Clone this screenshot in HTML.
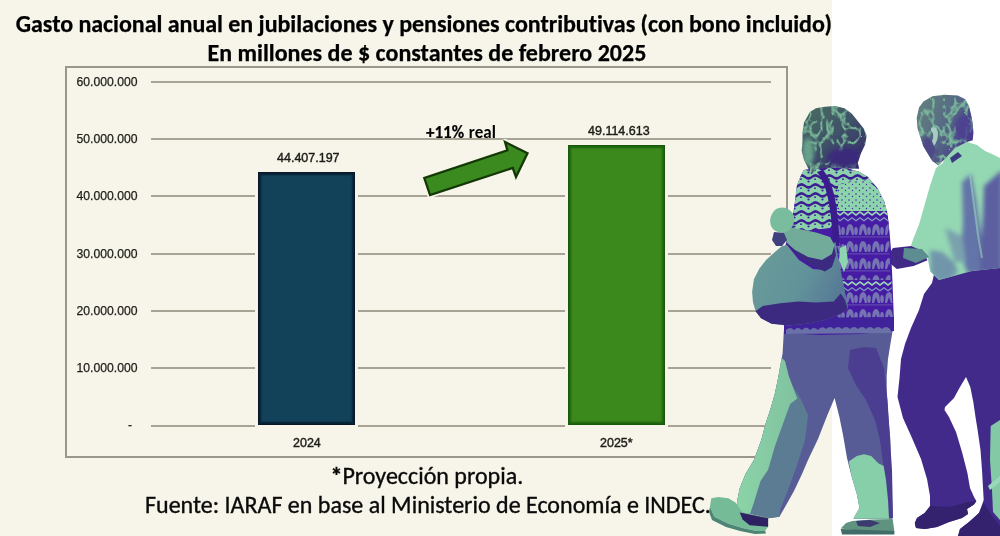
<!DOCTYPE html>
<html><head><meta charset="utf-8">
<style>
html,body{margin:0;padding:0}
body{width:1000px;height:536px;position:relative;overflow:hidden;background:#ffffff}
#bg{position:absolute;left:0;top:0;width:832px;height:536px;background:#f7f5e9}
.t{position:absolute;white-space:nowrap;color:#000;font-family:"Carlito","Liberation Sans",sans-serif}
.title{font-weight:bold;font-size:24px;line-height:24px;-webkit-text-stroke:0.25px #000}
.foot{font-size:24px;line-height:24px;color:#0a0a0a;-webkit-text-stroke:0.35px #0a0a0a}
#box{position:absolute;left:65px;top:66px;width:719px;height:388px;border:2px solid #9a978a}
.grid{position:absolute;left:151px;width:620px;height:2px;background:#a7a496}
.yl{position:absolute;right:862.5px;-webkit-text-stroke:0.25px #1e1e1a;font-family:"Liberation Sans",sans-serif;font-size:12.2px;line-height:12px;color:#1e1e1a;white-space:nowrap}
.lbl{position:absolute;-webkit-text-stroke:0.4px #1a1a16;font-family:"Liberation Sans",sans-serif;font-size:12.5px;line-height:12px;color:#1e1e1a;white-space:nowrap}
.bar{position:absolute;box-sizing:border-box}
#b1{left:257.5px;top:171.5px;width:97px;height:253.5px;background:#11425a;border:1px solid #06182a;box-shadow:0 0 0 3px #f7f5e9, inset 2px 0 2px #082236, inset -2px 0 2px #082236, inset 0 2px 2px #082236, inset 0 -2px 2px #082236}
#b2{left:567.5px;top:144.5px;width:97.5px;height:280.5px;background:#3b881d;border:1px solid #175a0a;box-shadow:0 0 0 3px #f7f5e9, inset 2px 0 2px #1f6510, inset -2px 0 2px #1f6510, inset 0 2px 2px #1f6510, inset 0 -2px 2px #1f6510}
</style></head>
<body>
<div id="bg"></div>
<div class="t title" style="left:15.8px;top:11.6px;letter-spacing:-0.035px">Gasto nacional anual en jubilaciones y pensiones contributivas (con bono incluido)</div>
<div class="t title" style="left:207.5px;top:40.5px">En millones de $ constantes de febrero 2025</div>

<div id="box"></div>
<div class="grid" style="top:81px"></div>
<div class="grid" style="top:138px"></div>
<div class="grid" style="top:195px"></div>
<div class="grid" style="top:253px"></div>
<div class="grid" style="top:310px"></div>
<div class="grid" style="top:367px"></div>
<div class="grid" style="top:425px"></div>

<div class="yl" style="top:76px">60.000.000</div>
<div class="yl" style="top:133px">50.000.000</div>
<div class="yl" style="top:190px">40.000.000</div>
<div class="yl" style="top:248px">30.000.000</div>
<div class="yl" style="top:305px">20.000.000</div>
<div class="yl" style="top:362px">10.000.000</div>
<div class="yl" style="top:419px;right:868px">-</div>

<div class="bar" id="b1"></div>
<div class="bar" id="b2"></div>
<div class="lbl" style="left:277px;top:152px">44.407.197</div>
<div class="lbl" style="left:588px;top:125px">49.114.613</div>
<div class="lbl" style="left:293px;top:437px">2024</div>
<div class="lbl" style="left:600px;top:437px">2025*</div>

<svg style="position:absolute;left:0;top:0" width="1000" height="536">
  <polygon points="430,195 424.3,178 507.4,150.3 505,142 527.5,153.3 516,177 512.8,168" fill="#3a8c1e" stroke="#f7f5e9" stroke-width="6" stroke-linejoin="round"/>
  <polygon points="430,195 424.3,178 507.4,150.3 505,142 527.5,153.3 516,177 512.8,168" fill="#3a8a1f" stroke="#133806" stroke-width="2.3" stroke-linejoin="miter"/>
</svg>
<div class="t" style="left:426px;top:121.5px;font-size:17px;font-weight:bold;-webkit-text-stroke:0.2px #000">+11% <span style="-webkit-text-stroke:0px;margin-left:0.9px">real</span></div>

<div class="t foot" style="left:330.5px;top:464px"><b>*</b>Proyección propia.</div>
<div class="t foot" style="left:145px;top:492.5px">Fuente: IARAF en base al Ministerio de Economía e INDEC.</div>


<svg id="photo" style="position:absolute;left:0;top:0" width="1000" height="536" viewBox="0 0 1000 536">
<defs>
  <linearGradient id="gHairW" x1="0" y1="0" x2="0.8" y2="1">
    <stop offset="0" stop-color="#4a6e62"/>
    <stop offset="0.5" stop-color="#3f5368"/>
    <stop offset="1" stop-color="#36286f"/>
  </linearGradient>
  <linearGradient id="gHeadM" x1="0" y1="0" x2="1" y2="0.6">
    <stop offset="0" stop-color="#65837f"/>
    <stop offset="0.55" stop-color="#566a84"/>
    <stop offset="1" stop-color="#46378a"/>
  </linearGradient>
  <linearGradient id="gBag" x1="0" y1="0" x2="1" y2="0.4">
    <stop offset="0" stop-color="#6a9c98"/>
    <stop offset="0.6" stop-color="#62939a"/>
    <stop offset="1" stop-color="#577a96"/>
  </linearGradient>
  <linearGradient id="gMint" x1="0" y1="0" x2="1" y2="0">
    <stop offset="0" stop-color="#8cd3a7"/>
    <stop offset="1" stop-color="#80c2a0"/>
  </linearGradient>
  <pattern id="knitTop" width="14" height="9" patternUnits="userSpaceOnUse">
    <rect width="14" height="9" fill="#8bd1ac"/>
    <path d="M0 4.5 Q3.5 1.5 7 4.5 Q10.5 7.5 14 4.5 L14 7.3 Q10.5 10.3 7 7.3 Q3.5 4.3 0 7.3 Z" fill="#3d1f92"/>
    <circle cx="3" cy="8.2" r="0.9" fill="#3d1f92"/>
    <circle cx="10.5" cy="1.5" r="1.1" fill="#3d1f92"/>
  </pattern>
  <pattern id="knitDots" width="7" height="6" patternUnits="userSpaceOnUse">
    <rect width="7" height="6" fill="#8cd3ae"/>
    <circle cx="2" cy="2" r="0.8" fill="#4a2aa0"/>
    <circle cx="5.5" cy="4.5" r="0.7" fill="#4a2aa0"/>
  </pattern>
  <pattern id="knitZig" width="8" height="14" patternUnits="userSpaceOnUse">
    <rect width="8" height="14" fill="#471ca4"/>
    <path d="M0 4 L4 1 L8 4 L8 6 L4 3 L0 6Z" fill="#9ad8b8"/>
    <path d="M0 10 L4 7 L8 10 L8 11.5 L4 8.5 L0 11.5Z" fill="#7f9ec0"/>
  </pattern>
  <pattern id="knitMotif" width="13" height="17" patternUnits="userSpaceOnUse">
    <rect width="13" height="17" fill="#471ca4"/>
    <path d="M1 14 Q1 3 5 3 Q9 3 9 14 Z" fill="#7474b2"/>
    <ellipse cx="11" cy="10" rx="1.8" ry="4" fill="#7474b2"/>
    <path d="M3 14 L5 8 L7 14 Z" fill="#471ca4"/>
    <rect x="0" y="15.5" width="13" height="0.8" fill="#6a5fb0"/>
  </pattern>
  <filter id="hairTex" x="0" y="0" width="1" height="1" filterUnits="objectBoundingBox">
    <feTurbulence type="turbulence" baseFrequency="0.09 0.07" numOctaves="2" seed="5" result="n"/>
    <feColorMatrix in="n" type="matrix" values="0 0 0 0 0  0 0 0 0 0  0 0 0 0 0  -4.5 0 0 0 1.0" result="m0"/>
    <feGaussianBlur in="m0" stdDeviation="0.5" result="m"/>
    <feFlood flood-color="#80c2a0"/>
    <feComposite in2="m" operator="in" result="spots"/>
    <feComposite in="spots" in2="SourceGraphic" operator="in" result="clip"/>
    <feMerge><feMergeNode in="SourceGraphic"/><feMergeNode in="clip"/></feMerge>
  </filter>
  <filter id="tiny" x="600" y="80" width="400" height="456" filterUnits="userSpaceOnUse"><feGaussianBlur stdDeviation="0.45"/></filter>
  <filter id="soft" x="-20%" y="-20%" width="140%" height="140%"><feGaussianBlur stdDeviation="2"/></filter>
  <clipPath id="cpShirt"><path d="M944 159 L955 148 L967 142 L977 145 L985 151 L992 154 L1000 158 L1000 268 L972 271 L950 277 L939 280 L930.3 271.5 L927.6 257.5 L922 250.5 L910.8 246.3 L913.6 237.9 L919.2 223.9 L924.8 204.3 L930.3 184.8 L936 168 L943 163 Z"/></clipPath>
  <clipPath id="cpHeadM"><path d="M923.4 101.4 L932.4 96.2 L944.3 94.7 L957.8 95.5 L965.2 99.2 L969 105.9 L971.2 114.9 L972.7 123.8 L973.4 132.8 L972.7 140.2 L967 142 L955 148 L944.3 159.6 L938.4 165.6 L932.4 161.1 L927.9 153.7 L923.4 146.2 L920.4 137.3 L917.5 128.3 L916.7 117.9 L919 107.4 Z"/></clipPath>
  <clipPath id="cpHeadW"><path d="M815.9 108.2 L824.9 106.7 L835.3 106 L844.3 108.2 L851.7 113.4 L857.7 120.9 L863.7 128.4 L866.6 135.8 L865.1 144.8 L860.7 153.7 L857.7 162.7 L859.2 168.7 L847 168.4 L834 167.6 L817 168.4 L811.4 174.6 L808.4 168.7 L804 159.7 L801.7 150.7 L802.5 141.8 L802.5 132.8 L804 122.4 L809.9 111.9 Z"/></clipPath>
</defs>

<g id="ppl" filter="url(#tiny)">
<!-- ================= MAN ================= -->
<!-- man pants / legs -->
<path d="M935 270 L932 283 L924 294 L919 310 L911 328 L905 344 L901 359 L899.5 378 L897.5 397 L903 418 L912 438 L921 459 L927 479 L930 496 L930 507 L924.6 513 L917 518 L914.8 523 L916 528 L925 529 L937 527 L949 522 L962 518 L968 514 L967 509 L974 504.5 L976.4 501 L974 497 L970 488 L967.4 473 L962 452 L956 432 L949 417 L944.5 410 L945 407 L954 398 L960 387 L966 377 L970.3 387 L973.3 402 L975.5 417 L977.6 430 L980.5 450 L982 470 L983.7 500 L979 513 L969 522 L960 529 L958 536 L1000 536 L1000 266 L972 270 L950 276 Z" fill="#432a8b"/>
<!-- man back leg lit strip -->
<path d="M990.7 426 L1000 420 L1000 520 L993 512 L992 490 L990 460 Z" fill="#84c9a6"/>
<path d="M988 486 L1000 476 L1000 482 L990 490 Z" fill="#9ad8bb"/>
<!-- man shoes darker -->
<path d="M930 506 L924.6 513 L917 518 L914.8 523 L916 528 L925 529 L937 527 L949 522 L962 518 L968 514 L967 509 L974 504.5 L976.4 501 L968 502 L950 507 Z" fill="#34206e"/>
<path d="M983.7 503 L979 513 L969 522 L960 529 L958 536 L1000 536 L1000 526 L992 516 Z" fill="#34206e"/>

<!-- man shirt -->
<path d="M944 159 L955 148 L967 142 L977 145 L985 151 L992 154 L1000 158 L1000 268 L972 271 L950 277 L939 280 L930.3 271.5 L927.6 257.5 L922 250.5 L910.8 246.3 L913.6 237.9 L919.2 223.9 L924.8 204.3 L930.3 184.8 L936 168 L943 163 Z" fill="#94d7b3"/>
<!-- shirt shadows -->
<g clip-path="url(#cpShirt)">
  <g filter="url(#soft)">
    <path d="M962 182 L971 174 L976 200 L980 228 L984 252 L988 272 L968 274 L961 256 L963 222 Z" fill="#6474a8"/>
    <path d="M984 186 L1002 170 L1002 274 L980 274 L981 244 L983 216 Z" fill="#5b60a0"/>
    <path d="M930 250 L942 252 L954 262 L958 272 L950 280 L939 282 L931 274 Z" fill="#7196ab"/>
    <path d="M945 228 L962 236 L966 262 L955 262 Z" fill="#7aa2ae"/>
  </g>
  <path d="M969 174 L971 176 L975 205 L979 235 L983 258 L981 258 L977 235 L973 205 Z" fill="#9ed8bf" opacity="0.55"/>
</g>
<path d="M950 158 L958 152 L962 156 L952 163 Z" fill="#3e3a80"/>
<!-- man arm -->
<path d="M911 246 L893 248 L889 254 L888.4 262 L896.8 269 L913.6 266 L927.6 260.3 L922 250.5 Z" fill="#3f2b86"/>
<path d="M904 248 L922 249 L929 257 L916 263 L903 258 Z" fill="#5c8d90"/>
<!-- man head -->
<path d="M923.4 101.4 L932.4 96.2 L944.3 94.7 L957.8 95.5 L965.2 99.2 L969 105.9 L971.2 114.9 L972.7 123.8 L973.4 132.8 L972.7 140.2 L967 142 L955 148 L944.3 159.6 L938.4 165.6 L932.4 161.1 L927.9 153.7 L923.4 146.2 L920.4 137.3 L917.5 128.3 L916.7 117.9 L919 107.4 Z" fill="url(#gHeadM)" filter="url(#hairTex)"/>
<g clip-path="url(#cpHeadM)">
  <g filter="url(#soft)">
    <ellipse cx="964" cy="128" rx="9" ry="13" fill="#4e4090" opacity="0.85"/>
    <ellipse cx="928" cy="150" rx="9" ry="14" fill="#4e4a86"/>
  </g>
  <path d="M931 128 Q937 125 938 133 Q938 141 934 146 L932 141 Q935 134 931 131 Z" fill="#a7cdc2"/>
</g>
<!-- ================= WOMAN ================= -->
<!-- pants base -->
<path d="M784 329 L783.7 333.4 L782.6 353.6 L780.4 364.8 L778.1 378.2 L774.8 393.9 L770.3 409.5 L765.8 423 L761.3 440 L753.9 460 L745.4 474.2 L739.7 488.4 L736.9 502.6 L738.3 509.6 L742.6 512.5 L756.7 515.3 L768.1 518.2 L779.4 516.7 L785 507 L794 491 L802 474 L808 460 L818 439 L827 416 L834.6 398 L839.4 417 L843.4 437 L847 458 L851.5 476 L856.8 494 L859.5 508 L853.3 518.7 L872 519 L892.6 518.7 L892 495 L890.8 470 L890.4 440 L888 412 L886.7 393 L886.7 376 L888 359 L890.4 344 L892.8 330 L860 331 Z" fill="#585c96"/>
<!-- front leg purple part -->
<path d="M850 350 L864 347 L876 348 L884 368 L887.5 400 L890 440 L892 470 L893 518 L886 518 L884 470 L880 440 L875 420 L866 400 L856 385 L848 368 Z" fill="#4b3d90"/>
<!-- back leg teal-gray -->
<path d="M781.5 362 L790 382 L801.6 400.6 L808 415 L805 440 L797 465 L788 490 L780 510 L779.4 516.7 L768.1 518.2 L756.7 515.3 L742.6 512.5 L738.3 509.6 L736.9 502.6 L739.7 488.4 L745.4 474.2 L753.9 460 L761.3 440 L765.8 423 L770.3 409.5 L774.8 393.9 L778.1 378.2 Z" fill="#5b7c94"/>
<!-- back leg mint -->
<path d="M781.8 358 L785 361 L788.8 376 L797.2 398.4 L790.2 404 L785 418 L780 432 L775 446 L768 470 L760.5 481 L753.9 502.6 L750 514 L742.6 512.5 L738.3 509.6 L736.9 502.6 L739.7 488.4 L745.4 474.2 L753.9 460 L761.3 440 L765.8 423 L770.3 409.5 L774.8 393.9 L778.1 378.2 L780.4 364.8 Z" fill="url(#gMint)"/>
<!-- front leg mint bottom -->
<path d="M848.8 461.5 L856.8 456.1 L864 454.3 L871.2 456.1 L878.3 463.3 L883.7 466 L886 480 L888 500 L889 518.7 L853.3 518.7 L859.5 508 L856.8 494 L851.5 476 Z" fill="#87cfa8"/>
<!-- woman shoes -->
<path d="M711.3 498.3 L718.4 496.9 L728.4 498.3 L735.5 502.6 L742.6 512.5 L756.7 515.3 L768.1 518.2 L768.1 526.7 L765.2 530.9 L756.7 530.9 L742.6 528.1 L728.4 523.8 L714.2 516.7 L709.9 506.8 Z" fill="#76bb97"/>
<path d="M709.9 506.8 L714.2 516.7 L728.4 523.8 L742.6 528.1 L756.7 530.9 L765.2 530.9 L766 533.5 L755 534 L740 531 L726 527 L712 520 L709 512 Z" fill="#4c8574"/>
<path d="M739.7 512.5 L768.1 518.2 L768.1 526.7 L749.6 525.2 L742.6 519.6 Z" fill="#2e2462"/>
<path d="M852.4 521 L872 519.5 L892.6 519 L894.4 531.3 L870 532 L840.7 528.5 L846 523 Z" fill="#5f937f"/>
<path d="M856 521 L870 520 L880 523 L870 527 L858 526 Z" fill="#3a3a72"/>
<path d="M840.7 529 L894.4 531 L894.4 534.5 L842 534.5 Z" fill="#3f6d68"/>

<!-- sweater base -->
<path d="M803.8 170 L817 168.4 L834 167.6 L847.4 168.4 L859.2 171.8 L867.6 176.8 L877.7 188.6 L884.4 202 L887.7 215.4 L889.4 230.6 L891 250 L892.4 280 L894 322 L893 331 L860 334 L820 335 L785 333 L780 300 L782 260 L788 235 L792 220.5 L793.7 210.4 L795.4 198.6 L797 185.2 L800.4 176.8 Z" fill="#471ca4"/>
<!-- top band (left sleeve + shoulders) mint-ish wavy -->
<path d="M803.8 170 L817 168.4 L834 167.6 L847.4 168.4 L859.2 171.8 L867.6 176.8 L877.7 188.6 L884.4 202 L887 212 L840 214 L830 228 L795 232 L792 220.5 L793.7 210.4 L795.4 198.6 L797 185.2 L800.4 176.8 Z" fill="url(#knitTop)"/>
<!-- mint dotted block right -->
<path d="M838 185 L852 181 L868 181 L878 189 L884.4 202 L887 211 L838 212 Z" fill="url(#knitDots)"/>
<!-- zigzag band -->
<path d="M836 211 L887 211 L888.6 224 L836 224 Z" fill="url(#knitZig)"/>
<!-- motif band -->
<path d="M836 224 L888.6 224 L890.6 280 L836 280 Z" fill="url(#knitMotif)"/>
<path d="M840 248 L846 245 L848 262 L844 272 L839 260 Z" fill="#8fd4b0"/>
<path d="M836 280 L891.5 280 L891.8 292 L836 292 Z" fill="url(#knitZig)"/>
<path d="M836 292 L892 292 L893 318 L836 318 Z" fill="url(#knitMotif)"/>
<!-- bottom lacy edge -->
<path d="M784 318 L894 317 L894 331 L860 333 L820 334 L784 334 Z" fill="#40209a"/>
<path d="M786 330 Q790 326 794 330 Q798 326 802 330 Q806 325 810 330 Q814 326 818 330 Q822 325 826 329 Q830 325 834 329 Q838 325 842 329 Q846 325 850 329 Q854 325 858 329 Q862 325 866 329 Q870 325 874 329 Q878 325 882 329 Q886 325 890 329 L892 333 L786 334 Z" fill="#6a70a8"/>

<!-- strap -->
<path d="M817 172 Q831 188 833 246 L839.5 246 Q838 186 823 170 Z" fill="#3a1f8c"/>
<!-- bag -->
<path d="M776 251 L766.3 259.8 L759.2 268.7 L753.9 279.3 L752.1 291.7 L753 302.4 L755.6 311.2 L761 318.3 L771.6 323.7 L789.3 325.4 L807 323.7 L824.8 320.1 L839 314.8 L847.8 309.5 L847.8 306 L844.3 288.2 L840.7 270.5 L837.2 252.7 L835.4 242 L830 246 L825 270 L813 269 L799 260 L787 245 L782 246 Z" fill="url(#gBag)"/>
<path d="M755.6 311.2 L762.7 306 L780.5 303.3 L798.2 301.5 L816 302.4 L833.7 301.5 L840.7 293.5 L845 300 L847.8 309.5 L839 314.8 L824.8 320.1 L807 323.7 L789.3 325.4 L771.6 323.7 L761 318.3 Z" fill="#3b2a80"/>
<!-- dark crescent under forearm -->
<path d="M786 243 L799 257 L812 266 L825 271.5 L832 267 L836 255 L834 246 L822 260 L808 257 L795 250 Z" fill="#3a2a80"/>
<!-- woman forearm -->
<path d="M783 226 L802 229.5 L817 232.8 L830 237 L834.5 245 L832 254 L822 260 L808 257 L795 250 L787 243 L782 236 Z" fill="#72ab99"/>
<!-- hand -->
<path d="M772 214 Q776 206 786 208 Q794 211 794.5 220 Q793 230 784 233 Q774 233 771 226 Q769 219 772 214 Z" fill="#79bc9e"/>
<path d="M774 232 L784 233 L787 240 L782 246 L776 246 L772 240 Z" fill="#40407f"/>
<!-- woman head -->
<path d="M815.9 108.2 L824.9 106.7 L835.3 106 L844.3 108.2 L851.7 113.4 L857.7 120.9 L863.7 128.4 L866.6 135.8 L865.1 144.8 L860.7 153.7 L857.7 162.7 L859.2 168.7 L847 168.4 L834 167.6 L817 168.4 L811.4 174.6 L808.4 168.7 L804 159.7 L801.7 150.7 L802.5 141.8 L802.5 132.8 L804 122.4 L809.9 111.9 Z" fill="url(#gHairW)" filter="url(#hairTex)"/>
<g clip-path="url(#cpHeadW)">
  <g filter="url(#soft)">
    <ellipse cx="845" cy="158" rx="18" ry="10" fill="#3a2c7a"/>
    <ellipse cx="808" cy="152" rx="6" ry="14" fill="#66a08a"/>
  </g>
</g>
</g>
</svg>

</body></html>
